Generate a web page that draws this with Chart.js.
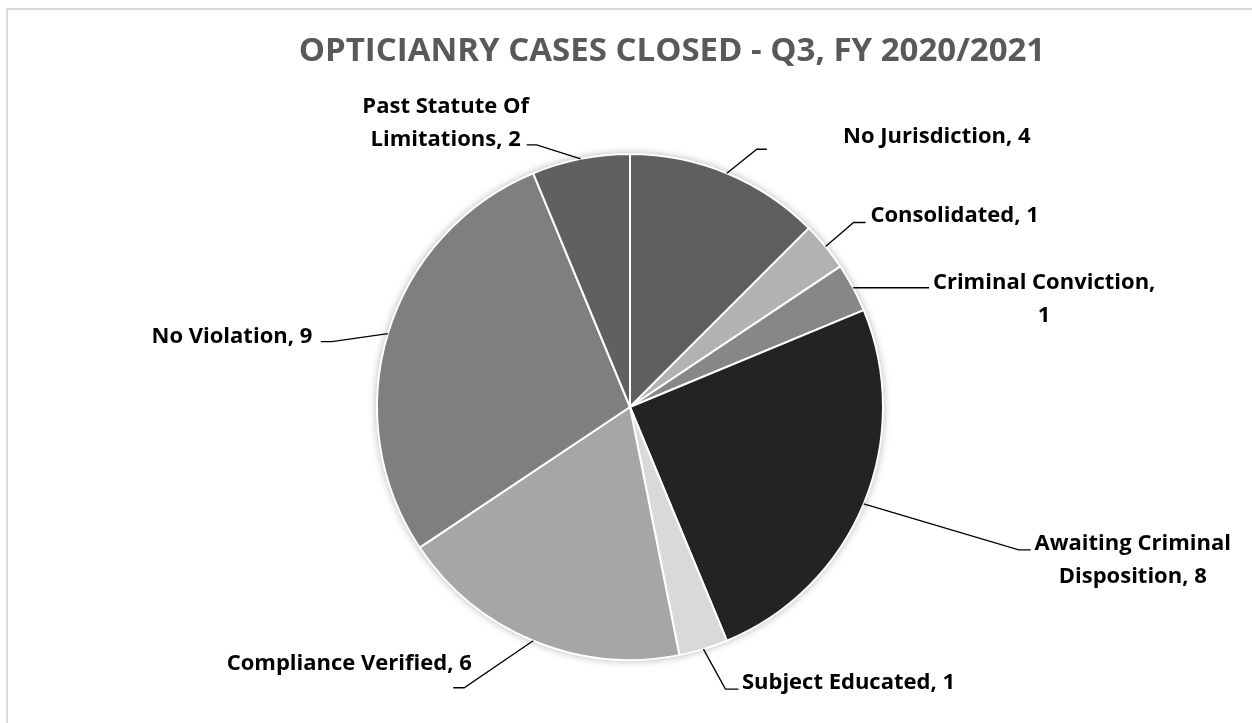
<!DOCTYPE html>
<html>
<head>
<meta charset="utf-8">
<script src="https://cdn.jsdelivr.net/npm/chart.js@4/dist/chart.umd.min.js"></script>
<style>
  html, body { margin: 0; padding: 0; background: #fff; }
  #wrap { position: relative; width: 1252px; height: 723px; }
  #frame { position: absolute; left: 6px; top: 8px; right: 0; bottom: 0;
           border-left: 2px solid #d9d9d9; border-top: 2px solid #d9d9d9; }
  canvas { position: absolute; left: 0; top: 0; }
</style>
</head>
<body>
<div id="wrap">
  <div id="frame"></div>
  <canvas id="pie-chart" width="1252" height="723"></canvas>
</div>
<script>
var chartTitle = 'OPTICIANRY CASES CLOSED - Q3, FY 2020/2021';

// data, clockwise from 12 o'clock
var categories = [
  'No Jurisdiction',
  'Consolidated',
  'Criminal Conviction',
  'Awaiting Criminal Disposition',
  'Subject Educated',
  'Compliance Verified',
  'No Violation',
  'Past Statute Of Limitations',
];
var casesClosed = [4, 1, 1, 8, 1, 6, 9, 2];
var sliceColors = ['#5f5f5f', '#b2b2b2', '#878787', '#232323', '#d9d9d9', '#a6a6a6', '#7f7f7f', '#606060'];

// label lines as shown in the chart
var labelLines = [
  ['No Jurisdiction, 4'],
  ['Consolidated, 1'],
  ['Criminal Conviction,', '1'],
  ['Awaiting Criminal', 'Disposition, 8'],
  ['Subject Educated, 1'],
  ['Compliance Verified, 6'],
  ['No Violation, 9'],
  ['Past Statute Of', 'Limitations, 2'],
];

// leader placement, relative to the point on the rim at the slice's mid angle
// elbow: [dx, dy], tail: extra x after elbow, text: [dx, baseline dy]
var leaders = [
  { elbow: [30, -24], tail: 10, text: [210, -30] },
  { elbow: [28, -24], tail: 12, text: [129, -24] },
  { elbow: [0, 0], tail: 76, text: [191, 1] },
  { elbow: [155, 46], tail: 12, text: [269, 46] },
  { elbow: [22, 40], tail: 13, text: [145, 40] },
  { elbow: [-69, 47], tail: -11, text: [-184, 29] },
  { elbow: [-56, 8], tail: -11, text: [-156, 9] },
  { elbow: [-44, -14], tail: -10, text: [-135, -46] },
];

var titleDraw = {
  id: 'titleDraw',
  afterDraw: function (chart) {
    var ctx = chart.ctx;
    var a = chart.chartArea;
    ctx.save();
    ctx.fillStyle = '#595959';
    ctx.font = 'bold 33px "Open Sans"';
    ctx.textAlign = 'center';
    ctx.textBaseline = 'middle';
    ctx.fillText(chartTitle, (a.left + a.right) / 2 + 42, 52);
    ctx.restore();
  }
};

var pieShadow = {
  id: 'pieShadow',
  beforeDatasetsDraw: function (chart) {
    var arc = chart.getDatasetMeta(0).data[0];
    if (!arc) return;
    var ctx = chart.ctx;
    ctx.save();
    ctx.shadowColor = 'rgba(0,0,0,0.35)';
    ctx.shadowBlur = 9;
    ctx.fillStyle = '#ffffff';
    ctx.beginPath();
    ctx.arc(arc.x, arc.y, arc.outerRadius, 0, Math.PI * 2);
    ctx.fill();
    ctx.restore();
  }
};

var leaderLabels = {
  id: 'leaderLabels',
  afterDatasetsDraw: function (chart) {
    var ctx = chart.ctx;
    var meta = chart.getDatasetMeta(0);
    meta.data.forEach(function (arc, i) {
      var mid = (arc.startAngle + arc.endAngle) / 2;
      var ex = arc.x + Math.cos(mid) * arc.outerRadius;
      var ey = arc.y + Math.sin(mid) * arc.outerRadius;
      var L = leaders[i];
      var bx = ex + L.elbow[0], by = ey + L.elbow[1];
      ctx.save();
      ctx.strokeStyle = '#000000';
      ctx.lineWidth = 1.3;
      ctx.beginPath();
      ctx.moveTo(ex, ey);
      ctx.lineTo(bx, by);
      ctx.lineTo(bx + L.tail, by);
      ctx.stroke();
      ctx.fillStyle = '#000000';
      ctx.font = 'bold 22px "Open Sans"';
      ctx.textAlign = 'center';
      ctx.textBaseline = 'alphabetic';
      labelLines[i].forEach(function (line, j) {
        ctx.fillText(line, ex + L.text[0], ey + L.text[1] + j * 33);
      });
      ctx.restore();
    });
  }
};

new Chart('pie-chart', {
  type: 'pie',
  data: {
    labels: categories,
    datasets: [{
      data: casesClosed,
      backgroundColor: sliceColors,
      borderColor: '#ffffff',
      borderWidth: 2,
    }],
  },
  options: {
    responsive: false,
    animation: false,
    layout: { padding: { left: 8, right: 0, top: 153, bottom: 62 } },
    plugins: {
      legend: { display: false },
      tooltip: { enabled: false },
      title: { display: false },
    },
  },
  plugins: [pieShadow, leaderLabels, titleDraw],
});
</script>
</body>
</html>
